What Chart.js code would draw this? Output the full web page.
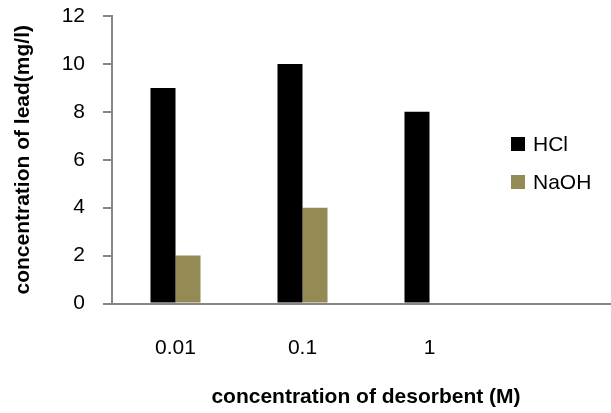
<!DOCTYPE html>
<html>
<head>
<meta charset="utf-8">
<script src="https://cdn.jsdelivr.net/npm/chart.js@4/dist/chart.umd.min.js"></script>
<style>
html,body{margin:0;padding:0;overflow:hidden;background:#fff;}
#wrap{width:625px;height:413px;position:relative;}
</style>
</head>
<body>
<div id="wrap"><canvas id="c" width="625" height="413"></canvas></div>
<script>
const categories = ['0.01', '0.1', '1', ''];
const hclValues = [9, 10, 8, null];
const naohValues = [2, 4, 0, null];
const seriesNames = ['HCl', 'NaOH'];
const seriesColors = ['#000000', '#948A54'];
const yTicks = [0, 2, 4, 6, 8, 10, 12];

const FONT = "'Liberation Sans', Arial, sans-serif";
const AXIS = '#868686';

const legendPlugin = {
  id: 'insideLegend',
  afterDraw(chart) {
    const ctx = chart.ctx;
    const area = chart.chartArea;
    const x0 = area.right - 109;
    const ys = [144, 182];
    ctx.save();
    ctx.font = '21px ' + FONT;
    ctx.textBaseline = 'middle';
    ctx.textAlign = 'left';
    chart.data.datasets.forEach((ds, i) => {
      ctx.fillStyle = ds.backgroundColor;
      ctx.fillRect(x0, ys[i] - 7, 14, 14);
      ctx.fillStyle = '#000';
      ctx.fillText(ds.label, x0 + 22, ys[i] + 1);
    });
    ctx.restore();
  }
};

new Chart(document.getElementById('c'), {
  type: 'bar',
  data: {
    labels: categories,
    datasets: [
      { label: seriesNames[0], data: hclValues, backgroundColor: seriesColors[0] },
      { label: seriesNames[1], data: naohValues, backgroundColor: seriesColors[1] }
    ]
  },
  options: {
    responsive: false,
    animation: false,
    devicePixelRatio: 1,
    layout: { padding: { top: 16, right: 5, bottom: 0, left: 0 } },
    datasets: { bar: { categoryPercentage: 0.394, barPercentage: 1.0, borderWidth: 0 } },
    plugins: { legend: { display: false }, tooltip: { enabled: false } },
    scales: {
      x: {
        grid: { display: false, drawTicks: false },
        border: { display: true, color: AXIS, width: 2 },
        ticks: { color: '#000', font: { family: FONT, size: 21 }, padding: 32, maxRotation: 0 },
        title: { display: true, text: 'concentration of desorbent (M)', color: '#000',
                 font: { family: FONT, size: 21, weight: 'bold' }, padding: { top: 0, bottom: 3 } },
        afterFit(s) { s.height = 109.5; s.paddingLeft = 0; s.paddingRight = 0; }
      },
      y: {
        min: 0, max: 12,
        afterBuildTicks(s) { s.ticks = yTicks.map(v => ({ value: v })); },
        grid: { display: true, drawOnChartArea: false, drawTicks: true, tickLength: 9, color: AXIS, lineWidth: 2 },
        border: { display: true, color: AXIS, width: 2 },
        ticks: { color: '#000', font: { family: FONT, size: 21 }, padding: 18 },
        title: { display: true, text: 'concentration of lead(mg/l)', color: '#000',
                 font: { family: FONT, size: 21, weight: 'bold' }, padding: { top: 11, bottom: 0 } },
        afterFit(s) { s.width = 112; s.paddingTop = 0; s.paddingBottom = 0; }
      }
    }
  },
  plugins: [legendPlugin]
});
</script>
</body>
</html>
